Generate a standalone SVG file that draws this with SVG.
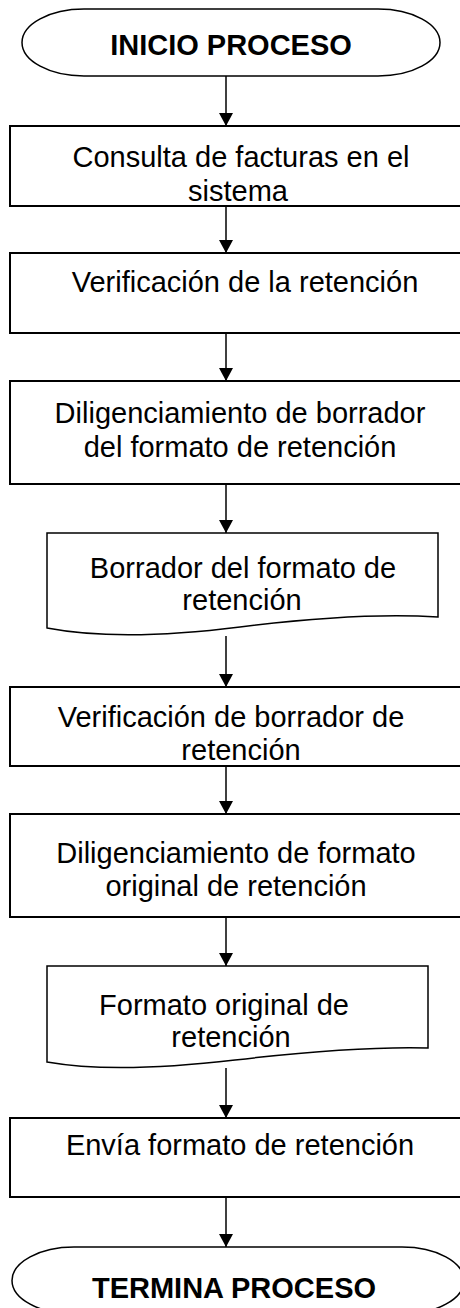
<svg xmlns="http://www.w3.org/2000/svg" width="460" height="1308" viewBox="0 0 460 1308">
<defs>
<style>
.box{fill:#fff;stroke:#000;stroke-width:2}
.term{fill:#fff;stroke:#000;stroke-width:1.5}
.doc{fill:#fff;stroke:#000;stroke-width:1.5}
.t{font-family:"Liberation Sans",Arial,sans-serif;font-size:29px;fill:#000;text-anchor:middle}
.b{font-weight:bold}
.c{stroke:#000;stroke-width:1.5;fill:none}
</style>
<marker id="ah" markerUnits="userSpaceOnUse" markerWidth="14" markerHeight="14" viewBox="0 0 14 14" refX="13" refY="7" orient="auto">
<path d="M0,0 L13,7 L0,14 Z" fill="#000"/>
</marker>
</defs>
<rect width="460" height="1308" fill="#fff"/>
<g id="connectors">
<line class="c" x1="226" y1="76" x2="226" y2="126" marker-end="url(#ah)"/>
<line class="c" x1="226" y1="203" x2="226" y2="253" marker-end="url(#ah)"/>
<line class="c" x1="226" y1="333" x2="226" y2="381" marker-end="url(#ah)"/>
<line class="c" x1="226" y1="484" x2="226" y2="533" marker-end="url(#ah)"/>
<line class="c" x1="226" y1="636" x2="226" y2="687" marker-end="url(#ah)"/>
<line class="c" x1="226" y1="764" x2="226" y2="814" marker-end="url(#ah)"/>
<line class="c" x1="226" y1="917" x2="226" y2="966" marker-end="url(#ah)"/>
<line class="c" x1="226" y1="1068" x2="226" y2="1118" marker-end="url(#ah)"/>
<line class="c" x1="226" y1="1197" x2="226" y2="1247" marker-end="url(#ah)"/>
</g>
<g id="n-inicio">
<rect class="term" x="22" y="9" width="418" height="67" rx="62" ry="33.5"/>
<text class="t b" x="231" y="55">INICIO PROCESO</text>
</g>
<g id="n-consulta">
<rect class="box" x="10" y="126" width="460" height="80"/>
<text class="t" x="241" y="167">Consulta de facturas en el</text>
<text class="t" x="238" y="201">sistema</text>
</g>
<g id="n-verificacion">
<rect class="box" x="10" y="253" width="460" height="80"/>
<text class="t" x="245" y="292">Verificación de la retención</text>
</g>
<g id="n-diligenciamiento-borrador">
<rect class="box" x="10" y="381" width="460" height="103"/>
<text class="t" x="240" y="423">Diligenciamiento de borrador</text>
<text class="t" x="240" y="457">del formato de retención</text>
</g>
<g id="n-doc-borrador">
<path class="doc" d="M47,533 H438 V617 Q360,612 240,627 T47,628 Z"/>
<text class="t" x="243" y="578">Borrador del formato de</text>
<text class="t" x="242" y="610">retención</text>
</g>
<g id="n-verificacion-borrador">
<rect class="box" x="10" y="687" width="460" height="79"/>
<text class="t" x="231" y="727">Verificación de borrador de</text>
<text class="t" x="241" y="760">retención</text>
</g>
<g id="n-diligenciamiento-original">
<rect class="box" x="10" y="814" width="460" height="103"/>
<text class="t" x="236" y="863">Diligenciamiento de formato</text>
<text class="t" x="236" y="896">original de retención</text>
</g>
<g id="n-doc-original">
<path class="doc" d="M47,966 H428 V1048 Q355,1046 235,1060 T47,1062 Z"/>
<text class="t" x="224" y="1015">Formato original de</text>
<text class="t" x="231" y="1047">retención</text>
</g>
<g id="n-envia">
<rect class="box" x="10" y="1118" width="460" height="79"/>
<text class="t" x="240" y="1155">Envía formato de retención</text>
</g>
<g id="n-termina">
<rect class="term" x="12" y="1247" width="452" height="67" rx="62" ry="33.5"/>
<text class="t b" x="234" y="1298">TERMINA PROCESO</text>
</g>
</svg>
